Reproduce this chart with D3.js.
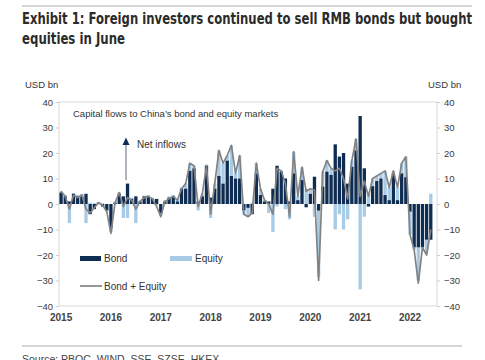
<!DOCTYPE html>
<html>
<head>
<meta charset="utf-8">
<script src="https://cdn.jsdelivr.net/npm/d3@7"></script>
<style>
  html, body { margin: 0; padding: 0; background: #fff; }
  svg { display: block; }
</style>
</head>
<body>
<svg id="chart" width="485" height="360"></svg>
<script>
// ---------- data (USD bn, monthly Jan 2015 – Jun 2022) ----------
const years = [2015, 2016, 2017, 2018, 2019, 2020, 2021, 2022];
const yTicks = [-40, -30, -20, -10, 0, 10, 20, 30, 40];

const bond = [
  4.5, 3, 1, 4, 3, 3, 4, -4, -2, 0.5, -1, -2.5,
  -9.5, 0.5, 4, 3, 8, 2, 3, 1, 3, 3, 2, 2,
  -3.5, 1, 2.5, 3, 1, 6, 6, 13, 14, 1, 3, 15,
  2.5, 6, 11, 8, 17, 11, 10, 10, -2.5, -1.5, -4, 12,
  3.5, 1, 1, 6, 15, 12.7, 10, 1, 12, 1.5, 9.4, -1.3,
  4, 10.7, -2.6, 6.8, 12.7, 11.4, 23.4, 18.6, 20, 8, 14.6, 21,
  34.5, 14, -1, 7, 9, 10, 3.5, 1.5, 12, 1.5, 12, 10.5,
  -3, -17, -17, -17, -14, -14
];
const equity = [
  0.5, 0.5, -7.5, 0.3, 0.5, 1, -7.5, 0.5, 0.3, 0.3, 0.3, -0.5,
  -1.5, 0.5, 0.5, -5.5, -5.5, 0.5, -7.5, 0.3, 0.3, 0.5, 0.5, -0.5,
  -1, 0.5, 0.5, 0.5, 1, 0.5, 2, 3, 1, -2.5, 1, 0.5,
  -5.5, 2, 10, 8, 2, 12, 2, 9, -1.5, -3.5, 0.5, 4,
  2.5, 0.5, -3.5, -11, -1, 0.5, -2, -6, 8.5, 1.5, 5, 6,
  2, -5, -26, 6, 4.5, 2.5, -10, -4, -10, -6, 2.5, 4.5,
  -33.5, -5, 4, 3, 2, 2, 9.5, 5, 1, 5, 4, 8,
  -9, -1, -13, -0.5, -5, 4
];
const total = [
  5, 3, -2, 3.5, 2.5, 3.5, -2, -3.5, -1.5, 0.5, -0.5, -3,
  -11.5, 0.5, 4.5, -1, 2.5, 1.5, -2, 1, 2.5, 3, 2, -1,
  -5, 1, 2, 3, 1.5, 6, 8, 16, 15, -1, 4, 15,
  -4, 8, 21, 16, 19, 23, 12, 19, -4, -5, -3.5, 16,
  6, 1.5, 0, -4, 14, 13, 8, -5, 20.5, 3, 14.5, 5,
  6, 5.5, -30, 12.7, 17, 14, 13, 14, 10, 2, 17, 25.5,
  3, 9, 3, 10, 11, 12, 13, 6.5, 13, 6.5, 16, 18.5,
  -12, -18, -31, -17, -20, -10
];
const months = bond.map((_, i) => {
  const y = 2015 + Math.floor(i / 12), m = i % 12 + 1;
  return y + "-" + String(m).padStart(2, "0");
});

// ---------- layout ----------
const svg = d3.select("#chart");
const plot = { left: 59, right: 437, top: 102, bottom: 306 };
const step = (plot.right - plot.left) / 91;
const NAVY = "#0f2d52", LIGHT = "#a8cce6", GREY = "#838383";
const FONT = "'Liberation Sans', Arial, sans-serif";
const NARROW = "'Liberation Sans Narrow', 'Arial Narrow', 'DejaVu Sans Condensed', 'Liberation Sans', sans-serif";

const x = d3.scaleBand().domain(months)
  .range([plot.left, plot.left + step * months.length])
  .paddingInner(0.2).paddingOuter(0.1);
const y = d3.scaleLinear().domain([-40, 40]).range([plot.bottom, plot.top]);

// top rule + title
svg.append("line").attr("x1", 22).attr("x2", 472).attr("y1", 6).attr("y2", 6)
  .attr("stroke", "#c8c8c8").attr("stroke-width", 1.5);
const title = svg.append("g").attr("font-family", NARROW).attr("font-weight", "bold")
  .attr("font-size", 15.5).attr("fill", "#2b2b2b");
title.append("text").attr("x", 22).attr("y", 24)
  .attr("textLength", 450).attr("lengthAdjust", "spacingAndGlyphs")
  .text("Exhibit 1: Foreign investors continued to sell RMB bonds but bought");
title.append("text").attr("x", 22).attr("y", 44)
  .attr("textLength", 103).attr("lengthAdjust", "spacingAndGlyphs")
  .text("equities in June");

// axis unit labels
svg.append("text").attr("x", 25).attr("y", 88).attr("font-family", FONT)
  .attr("font-size", 9.5).attr("fill", "#333").text("USD bn");
svg.append("text").attr("x", 428).attr("y", 88).attr("font-family", FONT)
  .attr("font-size", 9.5).attr("fill", "#333").text("USD bn");

// frame
svg.append("rect").attr("x", plot.left).attr("y", plot.top)
  .attr("width", plot.right - plot.left).attr("height", plot.bottom - plot.top)
  .attr("fill", "none").attr("stroke", "#d9d9d9").attr("stroke-width", 1);

// axes
function styleAxis(g) {
  g.select(".domain").remove();
  g.selectAll(".tick line").attr("stroke", "#cfcfcf");
  g.selectAll(".tick text").attr("font-family", FONT).attr("font-size", 9.5).attr("fill", "#3a3a3a");
}
svg.append("g").attr("transform", `translate(${plot.left},0)`)
  .call(d3.axisLeft(y).tickValues(yTicks).tickSize(3).tickPadding(3)).call(styleAxis);
svg.append("g").attr("transform", `translate(${plot.right},0)`)
  .call(d3.axisRight(y).tickValues(yTicks).tickSize(3).tickPadding(4)).call(styleAxis);
svg.append("g").attr("transform", `translate(0,${plot.bottom})`)
  .call(d3.axisBottom(x).tickValues(years.map(yr => yr + "-01"))
    .tickFormat(d => d.slice(0, 4)).tickSize(0).tickPadding(8))
  .call(styleAxis)
  .call(g => g.selectAll(".tick text").attr("font-size", 10).attr("font-weight", "bold").attr("fill", "#444"));

// stacked bars
const rows = months.map((m, i) => ({ month: m, bond: bond[i], equity: equity[i] }));
const series = d3.stack().keys(["bond", "equity"]).offset(d3.stackOffsetDiverging)(rows);
const colors = { bond: NAVY, equity: LIGHT };
svg.append("g").selectAll("g").data(series.slice().reverse()).join("g")
  .attr("fill", s => colors[s.key])
  .selectAll("rect").data(s => s).join("rect")
  .attr("x", d => x(d.data.month))
  .attr("width", x.bandwidth())
  .attr("y", d => y(Math.max(d[0], d[1])))
  .attr("height", d => Math.abs(y(d[0]) - y(d[1])));

// line
const line = d3.line()
  .x((d, i) => x(months[i]) + x.bandwidth() / 2)
  .y(d => y(d));
svg.append("path").datum(total).attr("d", line).attr("fill", "none")
  .attr("stroke", GREY).attr("stroke-width", 1.7).attr("stroke-linejoin", "round");

// annotations
svg.append("text").attr("x", 73).attr("y", 117).attr("font-family", FONT)
  .attr("font-size", 9.5).attr("fill", "#333")
  .text("Capital flows to China\u2019s bond and equity markets");
svg.append("line").attr("x1", 126).attr("x2", 126).attr("y1", 180).attr("y2", 143)
  .attr("stroke", "#5d6b7e").attr("stroke-width", 1);
svg.append("path").attr("d", "M122.5,145 L126,137.5 L129.5,145 Z").attr("fill", NAVY);
svg.append("text").attr("x", 137).attr("y", 148).attr("font-family", FONT)
  .attr("font-size", 10).attr("fill", "#333").text("Net inflows");

// legend
const leg = svg.append("g").attr("font-family", FONT).attr("font-size", 10).attr("fill", "#333");
leg.append("rect").attr("x", 80).attr("y", 256).attr("width", 21).attr("height", 5).attr("fill", NAVY);
leg.append("text").attr("x", 104).attr("y", 262).text("Bond");
leg.append("rect").attr("x", 170).attr("y", 256).attr("width", 22).attr("height", 5).attr("fill", LIGHT);
leg.append("text").attr("x", 195).attr("y", 262).text("Equity");
leg.append("line").attr("x1", 80).attr("x2", 102).attr("y1", 286).attr("y2", 286)
  .attr("stroke", GREY).attr("stroke-width", 1.7);
leg.append("text").attr("x", 104).attr("y", 290).text("Bond + Equity");

// bottom rule + source
svg.append("line").attr("x1", 22).attr("x2", 462).attr("y1", 346).attr("y2", 346)
  .attr("stroke", "#c8c8c8").attr("stroke-width", 1.5);
svg.append("text").attr("x", 22).attr("y", 363).attr("font-family", FONT)
  .attr("font-size", 10.5).attr("fill", "#444").text("Source: PBOC, WIND, SSE, SZSE, HKEX");
</script>
</body>
</html>
